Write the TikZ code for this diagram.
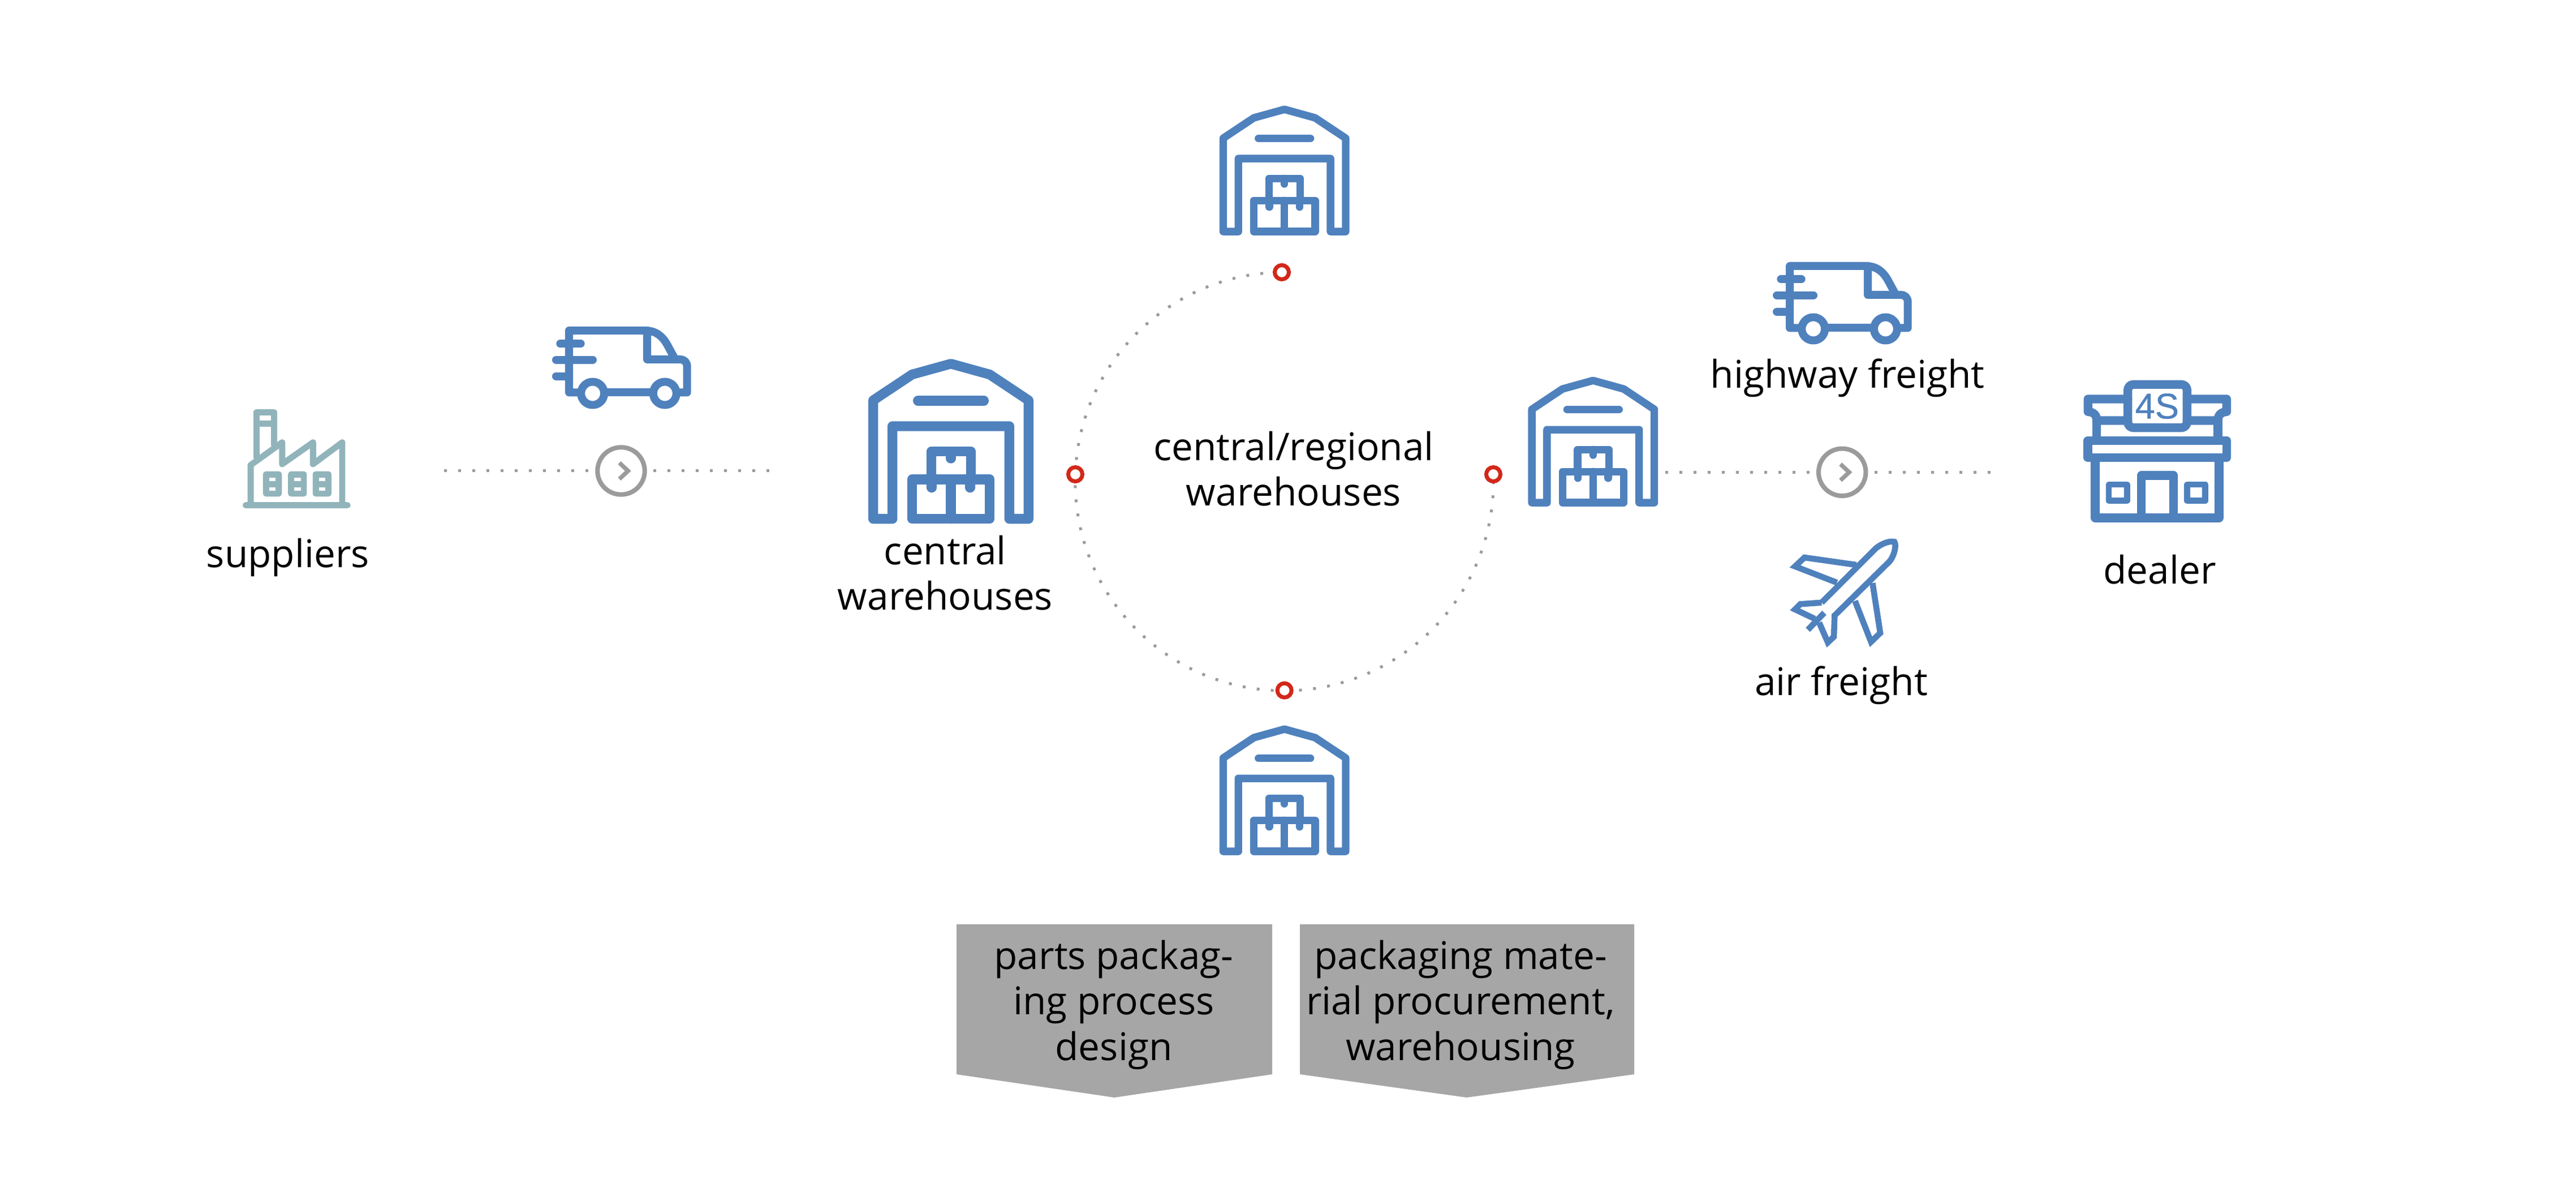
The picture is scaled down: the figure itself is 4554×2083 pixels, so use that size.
\documentclass[tikz,border=0pt]{standalone}
\usepackage{fontspec}
\setmainfont{Open Sans}
\newfontfamily\signfont[FakeBold=0.5]{Liberation Sans}
\definecolor{iconblue}{HTML}{4F81BD}
\definecolor{factoryteal}{HTML}{91B4BB}
\definecolor{stepgray}{HTML}{9B9B9B}
\definecolor{ringred}{HTML}{D22819}
\definecolor{packgray}{HTML}{A6A6A6}
\tikzset{
  pics/depot/.style={code={
    \begin{scope}[scale=1/3,shift={(-603,-975)}]
    \draw[icon line,pic actions] (293,950) -- (191,950) -- (191,322) -- (397,185) -- (603,128) -- (809,185)
      -- (1015,322) -- (1015,950) -- (913,950) -- (913,459) -- (293,459) -- cycle;
    \draw[icon line,pic actions] (428,324) -- (778,324);
    \draw[icon line,pic actions] (397,741) rectangle (809,950);
    \draw[icon line,pic actions] (603,741) -- (603,950);
    \draw[icon line,pic actions] (499,741) -- (499,593) -- (709,593) -- (709,741);
    \draw[icon line,pic actions] (603,593) -- (603,630);
    \draw[icon line,pic actions] (501,741) -- (501,785);
    \draw[icon line,pic actions] (705,741) -- (705,785);
    \end{scope}
  }},
  pics/van/.style={code={
    \begin{scope}[scale=1/3,shift={(-102,-100)},line width=3.98pt]
    \draw[icon line] (235,449) -- (192,449) -- (192,121) -- (595,121)
      .. controls (655,121) and (690,155) .. (712,195) -- (750,265);
    \draw[icon line] (606,121) -- (606,274) -- (780,274)
      .. controls (805,274) and (818,290) .. (818,312) -- (818,449) -- (780,449);
    \draw[icon line] (395,449) -- (620,449);
    \draw[icon line] (145,191) -- (254,191);
    \draw[icon line] (123,276) -- (318,276);
    \draw[icon line] (123,363) -- (192,363);
    \draw[icon line] (317,454) circle (61.5);
    \draw[icon line] (700,454) circle (61.5);
    \end{scope}
  }},
  pics/stepmark/.style={code={
    \draw[stepgray,line width=2.1pt] (-3,-14.3) -- (12.3,0) -- (-3,14.3);
  }}
}
\begin{document}
\begin{tikzpicture}[x=0.01cm,y=-0.01cm,
    icon line/.style={draw=iconblue,line cap=round,line join=round},
    dot line/.style={draw=stepgray,line width=1.42pt,dash pattern=on 1.42pt off 5.69pt},
    step node/.style={circle,draw=stepgray,line width=2.28pt,minimum size=0.834cm,inner sep=0pt},
    red node/.style={circle,draw=ringred,fill=white,line width=2pt,minimum size=0.25cm,inner sep=0pt},
    label node/.style={inner sep=0pt,align=center,font=\fontsize{19.2}{22.76}\selectfont}]
\path[fill=white,use as bounding box] (0,0) rectangle (4554,2083);

% suppliers
\begin{scope}[shift={(380,540)},xscale=1/1.742,yscale=1/3,line join=round]
\draw[factoryteal,line width=3.1pt,line cap=round] (95,1058) -- (408,1058);
\draw[factoryteal,line width=3.1pt] (110,1058) -- (110,845) -- (207,725) -- (207,840) -- (302,725)
  -- (302,840) -- (392,725) -- (392,1058);
\draw[factoryteal,line width=3.1pt] (128,810) -- (128,565) -- (182,565) -- (182,745);
\draw[factoryteal,line width=3.1pt] (128,625) -- (182,625);
\foreach \wx in {148,225,301} {
  \fill[factoryteal,rounded corners=1.5pt] (\wx,878) rectangle ++(58,134);
  \fill[white] (\wx+19,912) rectangle ++(20,18);
  \fill[white] (\wx+19,962) rectangle ++(20,18);
}
\end{scope}
\node[label node,anchor=base] (suppliers) at (509,1003) {suppliers};

% first leg
\pic at (976,577) {van};
\coordinate (legastart) at (785,832);
\coordinate (legaend) at (1360,832);
\node[step node] (stepa) at (1098,832) {};
\pic at (stepa) {stepmark};
\draw[dot line] (legastart) -- (stepa);
\draw[dot line] (legaend) -- (stepa);

% central warehouses
\pic[line width=4.93pt] at (1681,925) {depot};
\node[label node,anchor=base] (central) at (1671,1078) {central\\warehouses};

% ring, open between the top and the right
\coordinate (ringstart) at (2266,481);
\draw[dot line,dash phase=4.84pt] (ringstart) arc[start angle=90.7,end angle=361.9,radius=3.695cm];
\node[red node] (redtop) at (ringstart) {};
\node[red node] (redleft) at (1901,838) {};
\node[red node] (redright) at (2640,838) {};
\node[red node] (redbottom) at (2270.7,1219.7) {};
\node[label node,anchor=base] (regional) at (2287,894) {central/regional\\warehouses};
\pic[scale=0.788,line width=3.79pt] at (2270.7,415.7) {depot};
\pic[scale=0.788,line width=3.79pt] at (2270.7,1510.7) {depot};
\pic[scale=0.788,line width=3.79pt] at (2816.3,894.7) {depot};

% second leg
\coordinate (legbstart) at (2943.7,834.3);
\coordinate (legbend) at (3518.7,834.3);
\node[step node] (stepb) at (3256.7,834.3) {};
\pic at (stepb) {stepmark};
\draw[dot line] (legbstart) -- (stepb);
\draw[dot line] (legbend) -- (stepb);
\pic at (3134,463) {van};
\node[label node,anchor=base] (highway) at (3266,686) {highway freight};

% plane
\begin{scope}[shift={(3140,930)},scale=1/3]
\draw[iconblue,line width=3pt,line join=miter] (241,404) -- (529,116)
  .. controls (560,90) and (605,75) .. (627,82) .. controls (640,100) and (625,160) .. (600,187)
  -- (310,472) -- (306,585) -- (274,615) -- (228,510);
\draw[iconblue,line width=3pt] (241,404) -- (128,412) -- (100,440) -- (205,490);
\draw[iconblue,line width=3pt] (425,204) -- (150,165) -- (100,212) -- (322,298);
\draw[iconblue,line width=3pt] (418,395) -- (503,612) -- (552,565) -- (511,300);
\draw[iconblue,line width=3pt] (255,458) -- (168,548);
\end{scope}
\node[label node,anchor=base] (air) at (3255,1229) {air freight};

% dealer
\begin{scope}[shift={(3640,650)},scale=1/3,line width=4.36pt]
\draw[icon line,rounded corners=2.8pt] (365,88) rectangle (679,317);
\draw[icon line] (365,165) -- (154,165) -- (154,232) .. controls (185,235) and (200,250) .. (200,279) -- (365,279);
\draw[icon line] (679,165) -- (889,165) -- (889,232) .. controls (858,235) and (843,250) .. (843,279) -- (679,279);
\draw[icon line] (200,279) -- (200,385);
\draw[icon line] (843,279) -- (843,385);
\draw[icon line] (153,386) rectangle (889,476);
\draw[icon line] (192,476) -- (192,795) -- (849,795) -- (849,476);
\draw[icon line] (437,795) -- (437,570) -- (608,570) -- (608,795);
\draw[icon line,line width=3.1pt] (264,618) rectangle (361,704);
\draw[icon line,line width=3.1pt] (680,618) rectangle (776,704);
\node[inner sep=0pt,text=iconblue,font=\signfont\fontsize{18}{18}\selectfont] (foursign) at (520,203) {4S};
\end{scope}
\node[label node,anchor=base] (dealer) at (3818,1032) {dealer};

% packaging tags
\fill[packgray] (1691,1633) -- (2249,1633) -- (2249,1898) -- (1970,1939) -- (1691,1898) -- cycle;
\fill[packgray] (2298,1633) -- (2889,1633) -- (2889,1898) -- (2593,1939) -- (2298,1898) -- cycle;
\node[label node,anchor=base] (designtag) at (1969,1873) {parts packag-\\ing process\\design};
\node[label node,anchor=base] (buytag) at (2582,1873) {packaging mate-\\rial procurement,\\warehousing};
\end{tikzpicture}
\end{document}
